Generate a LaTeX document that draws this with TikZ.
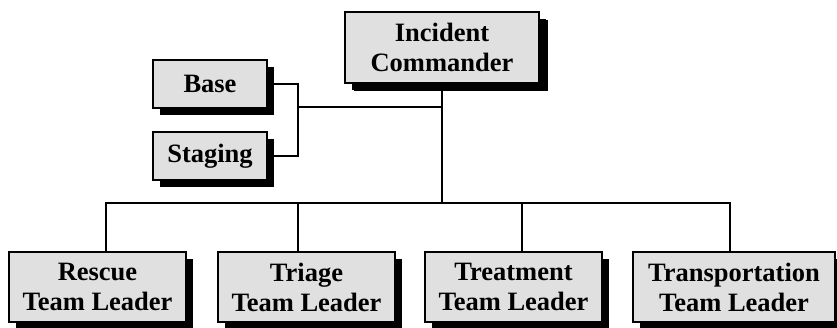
\documentclass[tikz,border=0pt]{standalone}
\usepackage{fontspec}
\setmainfont{Liberation Serif}
\usepackage{tikz}
\usetikzlibrary{shadows}
\usetikzlibrary{calc}
\definecolor{boxgray}{RGB}{224,224,224}
\tikzset{
	box/.style={draw, line width=1.2pt, fill=boxgray, align=center, inner sep=0pt,
		font=\fontsize{26.5}{30}\selectfont\bfseries,
		drop shadow={shadow xshift=7pt, shadow yshift=-7pt, fill=black, opacity=1}},
	link/.style={line width=1.1pt}
}
\begin{document}
\begin{tikzpicture}[x=1pt,y=-1pt]
			\useasboundingbox (0,0) rectangle (837,328);
			\node[box, minimum width=194, minimum height=71,
				drop shadow={shadow xshift=9pt, shadow yshift=-8pt, fill=black, opacity=1}]
				(ic) at (442,47.5) {Incident\\Commander};
			\node[box, minimum width=114, minimum height=48] (base) at (210,84) {Base};
			\node[box, minimum width=114, minimum height=48] (staging) at (210,156) {Staging};
			\node[box, minimum width=177, minimum height=70] (rescue) at (97.5,287) {Rescue\\Team Leader};
			\node[box, minimum width=177, minimum height=70] (triage) at (306.5,287) {Triage\\Team Leader};
			\node[box, minimum width=177, minimum height=70] (treatment) at (513.5,287) {Treatment\\Team Leader};
			\node[box, minimum width=202, minimum height=70] (transport) at (734,287) {Transportation\\Team Leader};
			\coordinate (side) at (298,107);
			\coordinate (bus) at (442,203);
			\draw[link] (base.east) -| (side) |- (staging.east);
			\draw[link] (side) -- (side -| ic.south);
			\draw[link] (ic.south) -- (bus);
			\draw[link] (bus) -| ([xshift=8.5]rescue.north);
			\draw[link] (bus) -| ([xshift=-8.5]triage.north);
			\draw[link] (bus) -| ([xshift=8.5]treatment.north);
			\draw[link] (bus) -| ([xshift=-4]transport.north);
		\end{tikzpicture}
\end{document}
